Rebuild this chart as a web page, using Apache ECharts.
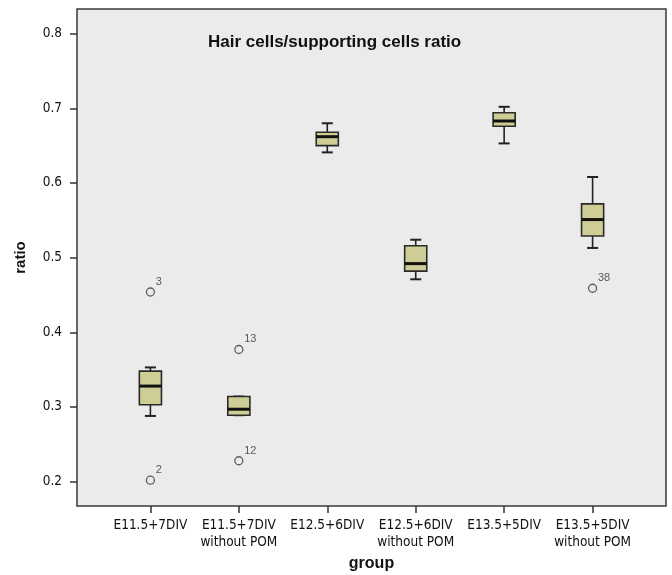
<!DOCTYPE html>
<html>
<head>
<meta charset="utf-8">
<script src="https://cdn.jsdelivr.net/npm/echarts@6/dist/echarts.min.js"></script>
<style>html,body{margin:0;padding:0;background:#fff;}#c{width:672px;height:575px;}</style>
</head>
<body>
<div id="c"></div>
<script>
const categories = ['E11.5+7DIV', 'E11.5+7DIV\nwithout POM', 'E12.5+6DIV', 'E12.5+6DIV\nwithout POM', 'E13.5+5DIV', 'E13.5+5DIV\nwithout POM'];
const whiskerLow  = [0.288, 0.289, 0.641, 0.471, 0.653, 0.513];
const q1          = [0.303, 0.289, 0.650, 0.482, 0.676, 0.529];
const medians     = [0.328, 0.297, 0.662, 0.492, 0.683, 0.551];
const q3          = [0.348, 0.314, 0.668, 0.516, 0.694, 0.572];
const whiskerHigh = [0.353, 0.314, 0.680, 0.524, 0.702, 0.608];
const outlierGroup = [0, 0, 1, 1, 5];
const outlierValue = [0.454, 0.202, 0.377, 0.228, 0.459];
const outlierLabel = ['3', '2', '13', '12', '38'];
const yTicks = [0.2, 0.3, 0.4, 0.5, 0.6, 0.7, 0.8];

const boxData = categories.map((c, i) => [i, whiskerLow[i], q1[i], medians[i], q3[i], whiskerHigh[i]]);
const outData = outlierValue.map((v, i) => [outlierGroup[i], v, outlierLabel[i]]);
const xTicks = categories.map((c, i) => i);

const tickFont = '"Liberation Sans Narrow", "DejaVu Sans Condensed", sans-serif';
const chart = echarts.init(document.getElementById('c'), null, {renderer: 'canvas'});
chart.setOption({
  animation: false,
  backgroundColor: '#ffffff',
  title: {
    text: 'Hair cells/supporting cells ratio',
    left: 203, top: 29,
    textStyle: {fontFamily: '"Liberation Sans", Arial, sans-serif', fontSize: 17, fontWeight: 'bold', color: '#111'}
  },
  grid: {
    left: 77, right: 6, top: 9, bottom: 69,
    containLabel: false, outerBoundsMode: 'none',
    show: true, backgroundColor: '#ebebeb', borderColor: '#3a3a3a', borderWidth: 1.5
  },
  xAxis: {
    type: 'value', min: -0.83, max: 5.83,
    name: 'group', nameLocation: 'middle', nameGap: 50,
    nameTextStyle: {fontFamily: '"Liberation Sans", Arial, sans-serif', fontSize: 16, fontWeight: 'bold', color: '#111'},
    splitLine: {show: false},
    axisLine: {show: false, onZero: false},
    axisTick: {show: true, length: 7, customValues: xTicks, lineStyle: {color: '#333', width: 1.5}},
    axisLabel: {
      customValues: xTicks, margin: 11, fontFamily: tickFont, fontSize: 13.5, color: '#111', lineHeight: 17,
      formatter: v => categories[Math.round(v)] || ''
    }
  },
  yAxis: {
    type: 'value', min: 0.1674, max: 0.833,
    name: 'ratio', nameLocation: 'middle', nameGap: 49, nameRotate: 90,
    nameTextStyle: {fontFamily: '"Liberation Sans", Arial, sans-serif', fontSize: 15, fontWeight: 'bold', color: '#111'},
    splitLine: {show: false},
    axisLine: {show: false, onZero: false},
    axisTick: {show: true, length: 7, customValues: yTicks, lineStyle: {color: '#333', width: 1.5}},
    axisLabel: {
      customValues: yTicks, margin: 15, fontFamily: tickFont, fontSize: 13.5, color: '#111',
      formatter: v => v.toFixed(1)
    }
  },
  series: [
    {
      type: 'custom',
      data: boxData,
      encode: {x: 0, y: [1, 2, 3, 4, 5]},
      renderItem: function (params, api) {
        const x = api.value(0);
        const w = api.size([1, 0])[0] * 0.25;
        const cap = w * 0.5;
        const pLow = api.coord([x, api.value(1)]);
        const pQ1 = api.coord([x, api.value(2)]);
        const pMed = api.coord([x, api.value(3)]);
        const pQ3 = api.coord([x, api.value(4)]);
        const pHigh = api.coord([x, api.value(5)]);
        const cx = pMed[0];
        const lineStyle = {stroke: '#222', lineWidth: 1.6};
        return {
          type: 'group',
          children: [
            {type: 'line', shape: {x1: cx, y1: pHigh[1], x2: cx, y2: pQ3[1]}, style: lineStyle},
            {type: 'line', shape: {x1: cx, y1: pLow[1], x2: cx, y2: pQ1[1]}, style: lineStyle},
            {type: 'line', shape: {x1: cx - cap / 2, y1: pHigh[1], x2: cx + cap / 2, y2: pHigh[1]}, style: {stroke: '#222', lineWidth: 2}},
            {type: 'line', shape: {x1: cx - cap / 2, y1: pLow[1], x2: cx + cap / 2, y2: pLow[1]}, style: {stroke: '#222', lineWidth: 2}},
            {type: 'rect', shape: {x: cx - w / 2, y: pQ3[1], width: w, height: pQ1[1] - pQ3[1]},
              style: {fill: '#cfcd96', stroke: '#2a2a2a', lineWidth: 1.6}},
            {type: 'line', shape: {x1: cx - w / 2, y1: pMed[1], x2: cx + w / 2, y2: pMed[1]}, style: {stroke: '#111', lineWidth: 3}}
          ]
        };
      },
      z: 3
    },
    {
      type: 'scatter',
      data: outData,
      symbol: 'circle',
      symbolSize: 8,
      itemStyle: {color: 'rgba(0,0,0,0)', borderColor: '#3a3a3a', borderWidth: 1.3},
      label: {
        show: true, position: [10, -11], align: 'left', verticalAlign: 'top',
        formatter: p => p.data[2],
        fontFamily: '"Liberation Sans", Arial, sans-serif', fontSize: 11, color: '#333'
      },
      z: 4
    }
  ]
});
</script>
</body>
</html>
